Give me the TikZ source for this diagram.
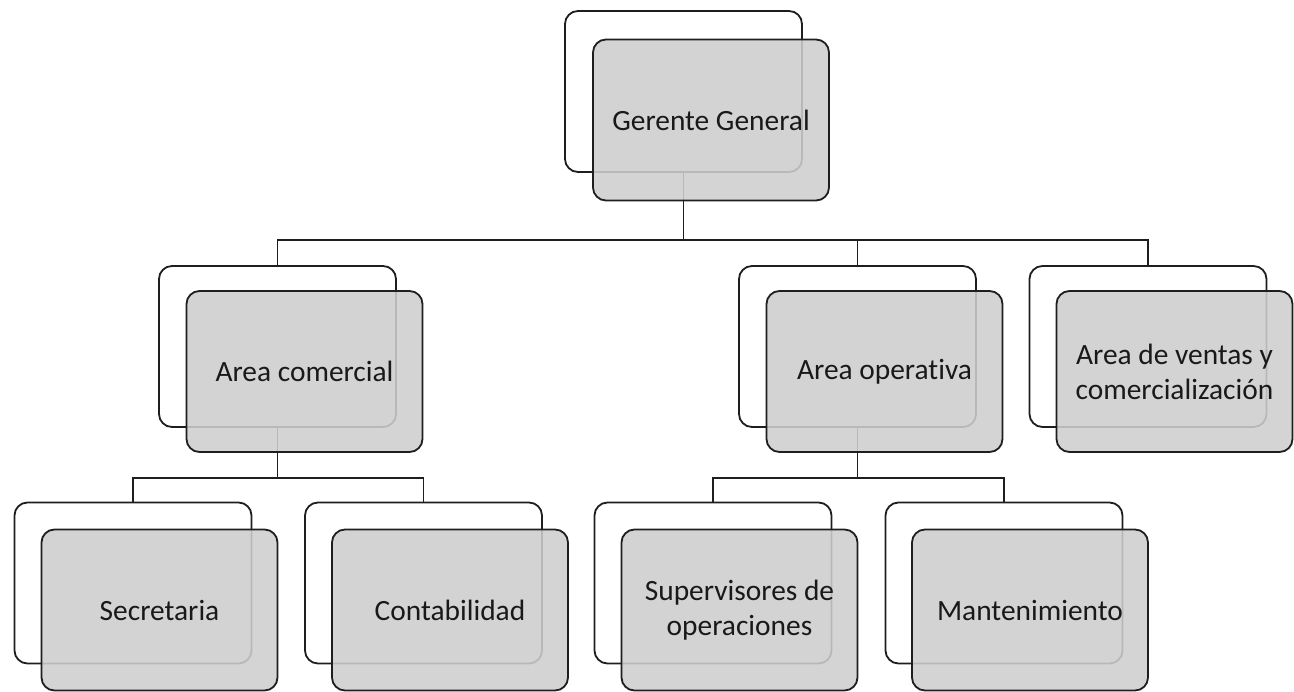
\documentclass[tikz,border=0pt]{standalone}
\usepackage{fontspec}
\setmainfont{Carlito}[Ligatures=NoCommon]
\definecolor{boxgray}{RGB}{206,206,206}
\definecolor{linecol}{RGB}{30,30,30}
\begin{document}
\begin{tikzpicture}[x=1pt,y=-1pt,
  backbox/.style={draw=linecol, line width=1.8pt, fill=white, rounded corners=13pt,
    minimum width=237pt, minimum height=161pt, inner sep=0pt},
  frontbox/.style={draw=linecol, line width=1.8pt, fill=boxgray, fill opacity=0.88,
    text opacity=1, draw opacity=1, rounded corners=13pt,
    minimum width=236pt, minimum height=161pt, inner sep=0pt, align=center,
    font=\fontsize{29.4}{35}\selectfont, text=black!90},
  conn/.style={draw=linecol, line width=1.8pt}
]
\useasboundingbox (0,0) rectangle (1294,692);
% bus levels
\coordinate (bus1) at (0,240);
\coordinate (bus2) at (0,478);
% back boxes
\node[backbox] (ggb)  at (683.5,91.5) {};
\node[backbox] (acb)  at (277.5,346.5) {};
\node[backbox] (aob)  at (857.5,346.5) {};
\node[backbox] (avb)  at (1148,346.5) {};
\node[backbox] (secb) at (133,583) {};
\node[backbox] (conb) at (423.5,583) {};
\node[backbox] (supb) at (713,583) {};
\node[backbox] (manb) at (1004,583) {};
% connectors
\draw[conn] (ggb.south) -- (ggb.south |- bus1) -| (acb.north);
\draw[conn] (ggb.south |- bus1) -| (aob.north);
\draw[conn] (ggb.south |- bus1) -| (avb.north);
\draw[conn] (acb.south) -- (acb.south |- bus2) -| (secb.north);
\draw[conn] (acb.south |- bus2) -| (conb.north);
\draw[conn] (aob.south) -- (aob.south |- bus2) -| (supb.north);
\draw[conn] (aob.south |- bus2) -| (manb.north);
% front boxes
\node[frontbox] (gg)  at (711,120) {Gerente General};
\node[frontbox] (ac)  at (304.5,371.5) {Area comercial};
\node[frontbox] (ao)  at (884.5,371.5) {Area operativa};
\node[frontbox] (av)  at (1174.5,371.5) {Area de ventas y\\comercialización};
\node[frontbox] (sec) at (159.5,610) {Secretaria};
\node[frontbox] (con) at (450,610) {Contabilidad};
\node[frontbox] (sup) at (739.5,610) {Supervisores de\\operaciones};
\node[frontbox] (man) at (1030,610) {Mantenimiento};
\end{tikzpicture}
\end{document}
